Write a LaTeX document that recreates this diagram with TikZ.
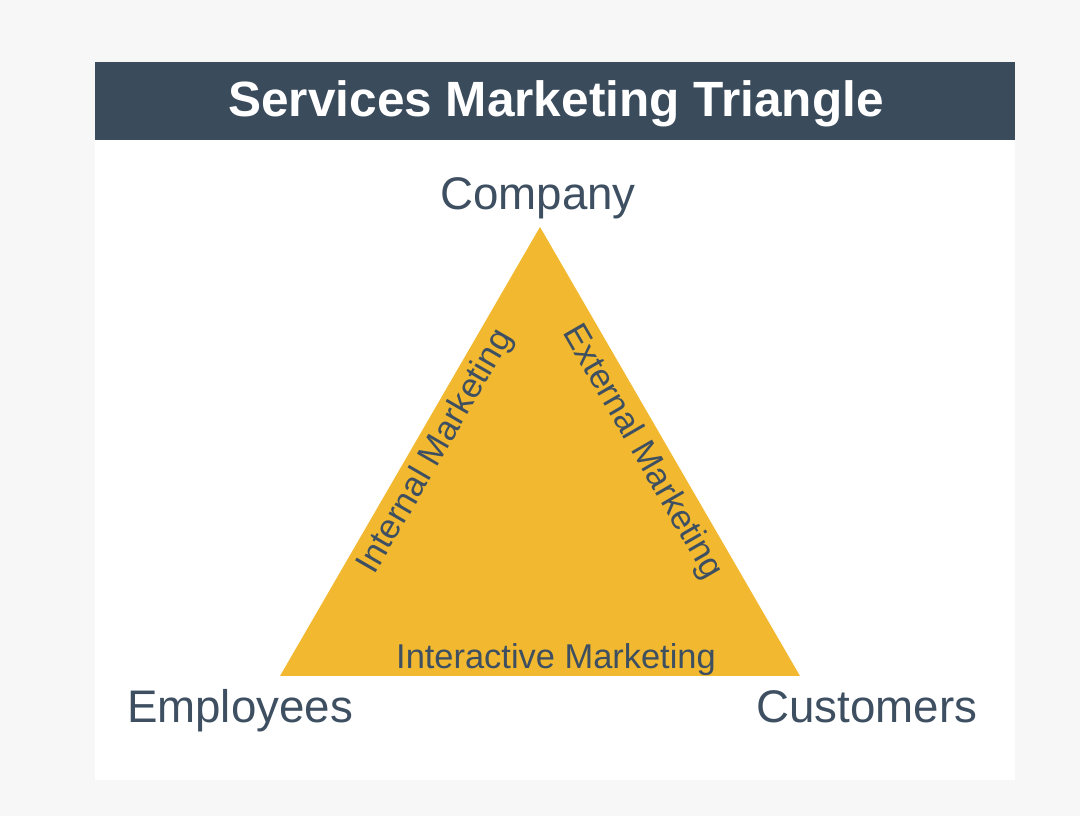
\documentclass[tikz,border=0pt]{standalone}
\usepackage{fontspec}
\setmainfont{Liberation Sans}
\definecolor{fondo}{HTML}{F7F7F7}
\definecolor{pizarra}{HTML}{3A4B5C}
\definecolor{texto}{HTML}{3D4F61}
\definecolor{amarillo}{HTML}{F2B930}
\tikzset{
  vertice/.style={text=texto, font=\fontsize{26}{30}\selectfont, anchor=base, inner sep=0pt},
  lado/.style={text=texto, font=\fontsize{19.6}{24}\selectfont, inner sep=0pt}
}
\begin{document}
\begin{tikzpicture}[x=0.02cm, y=0.02cm]
\useasboundingbox (0,0) rectangle (1080,816);
\fill[fondo] (0,0) rectangle (1080,816);

% Tarjeta y cabecera
\fill[white] (95,36) rectangle (1015,754);
\fill[pizarra] (95,676) rectangle (1015,754);
\node[text=white, font=\fontsize{28.2}{34}\selectfont\bfseries] (titulo) at (556,712) {Services Marketing Triangle};

% Triangulo
\coordinate (A) at (540,589);
\coordinate (E) at (280,140);
\coordinate (C) at (800,140);
\fill[amarillo] (A) -- (E) -- (C) -- cycle;

% Vertices
\node[vertice] (company) at (538,606) {Company};
\node[vertice] (employees) at (240,93) {Employees};
\node[vertice] (customers) at (867,93) {Customers};

% Lados
\node[lado, rotate=59.9] (interno) at (436,364) {Internal Marketing};
\node[lado, rotate=-59.9] (externo) at (642,364) {External Marketing};
\node[lado, anchor=base] (interactivo) at (556,148) {Interactive Marketing};
\end{tikzpicture}
\end{document}
